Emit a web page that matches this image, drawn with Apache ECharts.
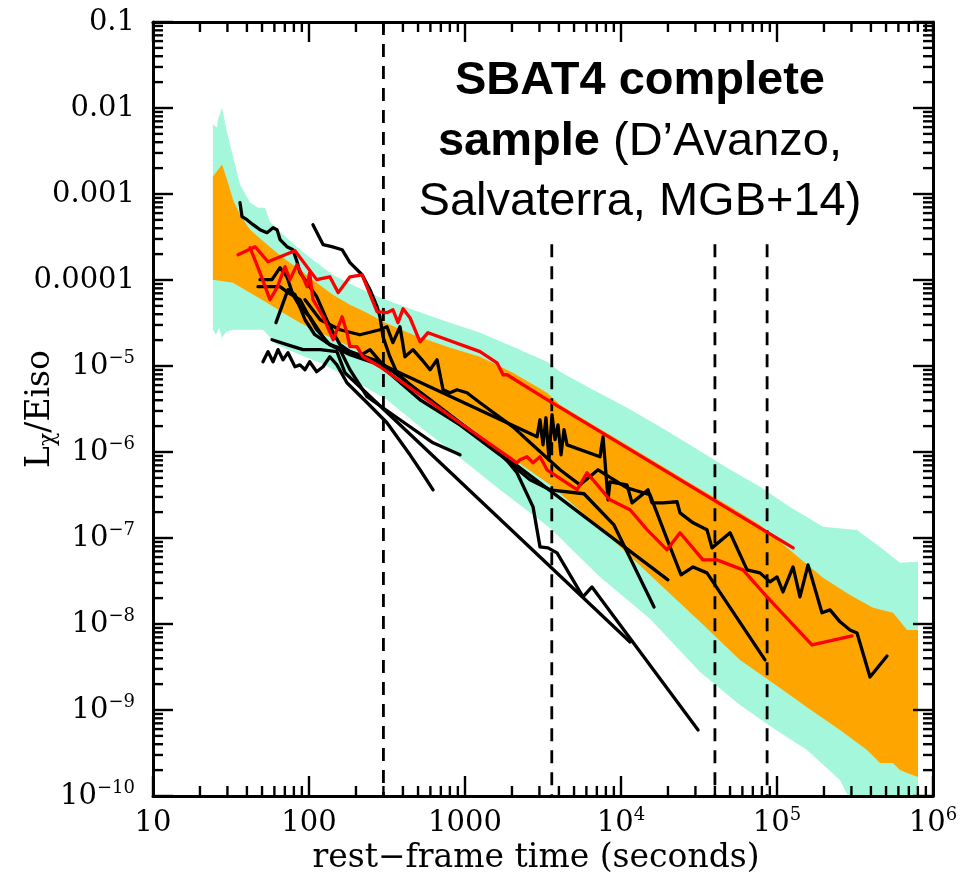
<!DOCTYPE html>
<html>
<head>
<meta charset="utf-8">
<script src="https://cdn.jsdelivr.net/npm/echarts@6/dist/echarts.min.js"></script>
<style>
  html, body { margin: 0; padding: 0; background: #fff; }
  #chart { width: 969px; height: 886px; }
</style>
</head>
<body>
<div id="chart"></div>
<script>
// Axis ranges (rest-frame seconds, Lx/Eiso)
const xRange = [10, 1e6];
const yRange = [1e-10, 0.1];

// Envelope of the sample: outer (cyan) and inner (orange) bands, [t, Lx/Eiso]
const outerUpper = [
  [24.2, 6.42e-3], [25.7, 5.92e-3], [26.1, 7.34e-3], [27.7, 1.01e-2], [29.8, 5.18e-3],
  [32.6, 2.72e-3], [36.1, 1.29e-3], [41.9, 7.94e-4], [47.1, 6.94e-4], [52.2, 6.94e-4],
  [56.2, 4.77e-4], [68.1, 3.37e-4], [87.5, 2.25e-4], [112, 1.59e-4], [142, 1.15e-4],
  [183, 9.06e-5], [235, 7.31e-5], [298, 6.06e-5], [464, 4.51e-5], [767, 3.27e-5],
  [1248, 2.44e-5], [2031, 1.67e-5], [3355, 1.12e-5], [4064, 8.57e-6], [6616, 5.29e-6],
  [10930, 3.27e-6], [17780, 1.96e-6], [28940, 1.15e-6], [47810, 6.55e-7], [77800, 3.94e-7],
  [121200, 2.30e-7], [197200, 1.35e-7], [325700, 1.24e-7], [457500, 7.88e-8],
  [614400, 5.14e-8], [801400, 5.28e-8]
];
const outerLower = [
  [24.2, 2.64e-5], [25.3, 2.31e-5], [26.5, 2.79e-5], [27.7, 2.13e-5], [29.4, 2.50e-5],
  [32.6, 2.64e-5], [50.7, 2.64e-5], [62.4, 1.77e-5], [87.5, 1.35e-5], [118, 1.09e-5],
  [191, 6.92e-6], [316, 4.05e-6], [515, 1.96e-6], [929, 8.56e-7], [1676, 3.63e-7],
  [3507, 1.31e-7], [7335, 3.53e-8], [15350, 1.15e-8], [32100, 2.77e-9], [57930, 1.14e-9],
  [94280, 6.18e-10], [155700, 3.43e-10], [253400, 1.53e-10], [285200, 1.0e-10],
  [801400, 1.0e-10]
];
const innerUpper = [
  [24.2, 1.59e-3], [26.1, 1.92e-3], [27.7, 2.20e-3], [29.8, 1.47e-3], [32.6, 8.60e-4],
  [36.1, 5.75e-4], [41.9, 3.85e-4], [53.8, 2.58e-4], [68.1, 1.82e-4], [87.5, 1.32e-4],
  [112, 9.31e-5], [142, 6.75e-5], [183, 5.16e-5], [235, 4.17e-5], [298, 3.27e-5],
  [464, 2.31e-5], [767, 1.67e-5], [1248, 1.28e-5], [2031, 8.34e-6], [3355, 4.89e-6],
  [4064, 3.54e-6], [6616, 2.07e-6], [10930, 1.21e-6], [17780, 7.10e-7], [28940, 4.15e-7],
  [47810, 2.43e-7], [77800, 1.42e-7], [126700, 6.72e-8], [197200, 3.44e-8],
  [293800, 2.18e-8], [412600, 1.54e-8], [554100, 1.35e-8], [681300, 8.53e-9],
  [801400, 8.53e-9]
];
const innerLower = [
  [24.2, 1.01e-4], [32.6, 9.31e-5], [41.9, 7.12e-5], [53.8, 5.45e-5], [68.1, 4.17e-5],
  [87.5, 3.19e-5], [118, 2.44e-5], [191, 1.63e-5], [316, 9.54e-6], [515, 5.02e-6],
  [929, 2.37e-6], [1676, 1.06e-6], [3507, 4.15e-7], [7335, 1.31e-7], [15350, 3.72e-8],
  [32100, 1.06e-8], [57930, 3.82e-9], [94280, 2.06e-9], [155700, 1.08e-9],
  [253400, 5.85e-10], [377600, 3.43e-10], [457500, 2.42e-10], [554100, 2.42e-10],
  [614400, 2.00e-10], [681300, 1.85e-10], [801400, 1.66e-10]
];

// Individual afterglow light curves (black)
const curveA = [
  [36.1, 7.94e-4], [37.2, 5.46e-4], [40.0, 5.03e-4], [43.8, 4.40e-4], [48.5, 3.85e-4],
  [53.8, 3.55e-4], [58.8, 4.06e-4], [62.4, 3.85e-4], [65.2, 2.95e-4], [72.2, 2.44e-4],
  [78.9, 2.25e-4], [83.8, 1.63e-4], [87.5, 1.22e-4], [97.1, 9.3e-5], [112, 6.40e-5],
  [130, 3.45e-5], [143, 2.44e-5], [158, 1.77e-5], [183, 1.47e-5], [212, 1.32e-5],
  [246, 1.55e-5], [298, 1.03e-5], [2897, 1.50e-6], [3025, 2.37e-6], [3162, 1.21e-6],
  [3304, 2.50e-6], [3453, 8.11e-7], [3612, 2.71e-6], [3776, 1.39e-6], [3945, 2.07e-6],
  [4124, 9.27e-7], [4313, 1.82e-6], [4508, 1.21e-6], [7334, 8.79e-7], [7670, 1.50e-6],
  [8260, 2.78e-7], [8500, 4.50e-7], [10920, 4.15e-7], [11770, 2.56e-7], [14900, 3.63e-7],
  [15810, 2.56e-7], [18590, 2.56e-7], [22860, 2.64e-7], [23900, 1.96e-7], [28970, 1.50e-7],
  [35560, 1.25e-7], [38300, 7.68e-8], [50000, 1.15e-7], [64270, 4.26e-8], [77800, 3.93e-8],
  [90200, 3.09e-8], [100000, 3.53e-8], [109200, 2.36e-8], [126700, 4.61e-8],
  [140300, 2.07e-8], [158100, 4.87e-8], [194200, 1.35e-8], [218700, 1.46e-8],
  [253500, 1.06e-8], [293800, 8.53e-9], [325800, 7.87e-9], [394600, 2.42e-9],
  [507100, 4.25e-9]
];
const curveB = [
  [106, 4.40e-4], [123, 2.58e-4], [140, 2.44e-4], [163, 2.25e-4], [183, 1.59e-4],
  [219, 1.15e-4], [246, 7.72e-5], [273, 4.90e-5], [285, 3.74e-5], [298, 2.19e-5],
  [330, 1.28e-5], [366, 8.36e-6], [444, 6.05e-6], [597, 4.05e-6], [802, 2.50e-6],
  [1077, 1.72e-6], [1676, 1.00e-6], [2153, 5.73e-7], [2730, 2.30e-7], [3025, 7.89e-8],
  [3404, 7.68e-8], [3890, 6.71e-8], [5704, 2.07e-8], [6516, 2.70e-8], [31200, 5.85e-10]
];
const curveC = [
  [94.3, 5.91e-5], [118, 3.45e-5], [158, 2.64e-5], [212, 2.31e-5], [285, 2.64e-5],
  [316, 2.86e-5], [345, 1.87e-5], [383, 2.86e-5], [412, 1.28e-5], [464, 1.55e-5],
  [530, 1.18e-5], [597, 9.06e-6], [662, 1.18e-5], [723, 5.30e-6], [802, 4.89e-6],
  [889, 5.30e-6], [1030, 4.89e-6], [1248, 3.74e-6], [2030, 1.96e-6], [2497, 1.39e-6],
  [4064, 6.21e-7], [5460, 4.15e-7], [7130, 6.21e-7], [10920, 3.83e-7], [15350, 3.18e-7],
  [20620, 7.89e-8], [24270, 3.73e-8], [28970, 4.61e-8], [35560, 3.93e-8], [83750, 3.82e-9]
];
const curveD = [
  [48.5, 1.01e-4], [57.9, 1.01e-4], [65.2, 1.39e-4], [72.2, 1.09e-4], [78.9, 6.75e-5],
  [87.5, 4.90e-5], [101, 3.74e-5], [118, 2.44e-5], [130, 1.87e-5], [158, 1.55e-5],
  [183, 9.06e-6], [236, 4.39e-6], [383, 2.37e-6], [624, 1.28e-6], [929, 9.27e-7]
];
const curveE = [
  [47.1, 8.36e-5], [56.2, 8.36e-5], [65.2, 8.36e-5], [73.3, 7.13e-5], [87.5, 5.91e-5],
  [97.1, 4.17e-5], [112, 2.64e-5], [136, 1.77e-5], [183, 1.35e-5], [285, 1.03e-5],
  [515, 4.05e-6], [929, 2.07e-6], [1676, 9.27e-7], [2610, 4.75e-7], [3508, 3.63e-7],
  [5790, 3.27e-7], [9010, 1.42e-7], [16290, 1.58e-8]
];
const curveF = [
  [61.4, 3.19e-5], [73.3, 7.72e-5], [81.3, 6.75e-5], [94.3, 3.45e-5], [109, 2.31e-5],
  [136, 1.77e-5], [183, 1.47e-5], [285, 1.12e-5], [20000, 3.26e-8]
];
const curveG = [
  [50.7, 1.12e-5], [54.6, 1.47e-5], [58.8, 1.12e-5], [63.3, 1.55e-5], [68.1, 1.18e-5],
  [73.3, 1.43e-5], [81.3, 9.8e-6], [87.5, 1.03e-5], [94.3, 9.06e-6], [101, 1.12e-5],
  [112, 8.58e-6], [123, 9.8e-6], [136, 1.28e-5], [151, 1.03e-5], [175, 6.38e-6],
  [236, 3.74e-6], [316, 2.19e-6], [444, 9.27e-7], [515, 6.21e-7], [624, 3.63e-7]
];
const curveH = [
  [57.9, 2.02e-5], [72.2, 1.77e-5], [91.6, 1.55e-5], [118, 1.55e-5], [151, 1.47e-5],
  [170, 8.36e-6], [11430, 6.18e-9]
];

// Highlighted light curves (red)
const redUpper = [
  [35.1, 1.97e-4], [45.1, 2.44e-4], [54.6, 1.63e-4], [81.3, 2.19e-4], [112, 1.01e-4],
  [136, 1.09e-4], [154, 7.13e-5], [183, 1.09e-4], [219, 1.15e-4], [273, 4.28e-5],
  [316, 4.17e-5], [345, 4.52e-5], [372, 3.19e-5], [401, 4.64e-5], [444, 3.64e-5],
  [515, 1.91e-5], [579, 2.44e-5], [1248, 1.47e-5], [1603, 1.09e-5], [1754, 7.91e-6],
  [1860, 7.91e-6], [3357, 4.06e-6], [127000, 7.67e-8]
];
const redLower = [
  [41.9, 2.38e-4], [48.5, 1.22e-4], [56.2, 5.91e-5], [62.4, 8.15e-5], [70.2, 1.43e-4],
  [75.5, 1.01e-4], [83.8, 1.51e-4], [90.2, 1.15e-4], [97.1, 8.36e-5], [101, 1.22e-4],
  [106, 5.91e-5], [123, 3.74e-5], [143, 2.02e-5], [163, 3.74e-5], [175, 2.44e-5],
  [183, 1.68e-5], [203, 1.68e-5], [222, 1.28e-5], [285, 9.8e-6], [2153, 7.48e-7],
  [2252, 8.12e-7], [2497, 8.8e-7], [2730, 7.48e-7], [3025, 8.8e-7], [3357, 6.21e-7],
  [5224, 3.64e-7], [6053, 5.73e-7], [6620, 4.75e-7], [8499, 2.78e-7], [11430, 2.13e-7],
  [14690, 1.25e-7], [19720, 7.29e-8], [23900, 1.15e-7], [33550, 5.57e-8], [41230, 5.57e-8],
  [60530, 4.26e-8], [86300, 2.07e-8], [167500, 5.71e-9], [303000, 7.28e-9]
];

// Reference epochs (dashed verticals): time and top of each line
const epochTimes = [300, 3600, 40000, 86400];
const epochTops = [0.1, 2.6e-4, 2.6e-4, 2.6e-4];

const blackCurves = [curveA, curveB, curveC, curveD, curveE, curveF, curveG, curveH];
const redCurves = [redUpper, redLower];

const serif = 'DejaVu Serif';
const sans = 'Liberation Sans';

// Decade and sub-decade tick positions of a log axis range
function logTicks(range) {
  const out = [];
  const e0 = Math.round(Math.log10(range[0]));
  const e1 = Math.round(Math.log10(range[1]));
  for (let e = e0; e <= e1; e++) {
    out.push({ v: Math.pow(10, e), major: true });
    if (e < e1) {
      for (let k = 2; k <= 9; k++) out.push({ v: k * Math.pow(10, e), major: false });
    }
  }
  return out;
}

// Inward ticks on all four sides of the frame
function renderTicks(params, api) {
  const style = { stroke: '#000', lineWidth: 2.4 };
  const children = [];
  logTicks(xRange).forEach(t => {
    const len = t.major ? 20 : 10;
    const b = api.coord([t.v, yRange[0]]);
    const tp = api.coord([t.v, yRange[1]]);
    children.push({ type: 'line', shape: { x1: b[0], y1: b[1], x2: b[0], y2: b[1] - len }, style });
    children.push({ type: 'line', shape: { x1: tp[0], y1: tp[1], x2: tp[0], y2: tp[1] + len }, style });
  });
  logTicks(yRange).forEach(t => {
    const len = t.major ? 20 : 10;
    const l = api.coord([xRange[0], t.v]);
    const r = api.coord([xRange[1], t.v]);
    children.push({ type: 'line', shape: { x1: l[0], y1: l[1], x2: l[0] + len, y2: l[1] }, style });
    children.push({ type: 'line', shape: { x1: r[0], y1: r[1], x2: r[0] - len, y2: r[1] }, style });
  });
  return { type: 'group', children };
}

function bandSeries(upper, lower, color, z) {
  const pts = upper.concat(lower.slice().reverse());
  return {
    type: 'custom', data: pts, z, silent: true,
    renderItem(params, api) {
      if (params.dataIndex !== 0) return null;
      return {
        type: 'polygon',
        shape: { points: pts.map(p => api.coord(p)) },
        style: { fill: color, stroke: null }
      };
    }
  };
}

function curveSeries(data, color, z) {
  return {
    type: 'line', data, z, silent: true, symbol: 'none', showSymbol: false,
    lineStyle: { color, width: 3.3, join: 'round', cap: 'round' }
  };
}

function epochSeries(i) {
  return {
    type: 'line', z: 3, silent: true, symbol: 'none',
    data: [[epochTimes[i], epochTops[i]], [epochTimes[i], yRange[0]]],
    lineStyle: { color: '#000', width: 2.8, type: [13, 9] }
  };
}

const numRich = {
  b: { fontFamily: serif, fontSize: 29, lineHeight: 34, color: '#000' },
  s: { fontFamily: serif, fontSize: 18, lineHeight: 20, verticalAlign: 'top', color: '#000' }
};

function xLabel(v) {
  const e = Math.round(Math.log10(v));
  if (e <= 3) return '{b|' + Math.pow(10, e) + '}';
  return '{b|10}{s|' + e + '}';
}
function yLabel(v) {
  const e = Math.round(Math.log10(v));
  if (e >= -4) return '{b|' + Math.pow(10, e).toFixed(-e) + '}';
  return '{b|10}{s|\u2212' + (-e) + '}';
}

const frameAxis = {
  type: 'log', logBase: 10, z: 30,
  axisLine: { show: true, onZero: false, lineStyle: { color: '#000', width: 3 } },
  axisTick: { show: false },
  splitLine: { show: false },
  minorTick: { show: false },
  minorSplitLine: { show: false }
};

const series = [
  bandSeries(outerUpper, outerLower, '#a4f7db', 1),
  bandSeries(innerUpper, innerLower, '#ffa500', 1.5),
  ...epochTimes.map((_, i) => epochSeries(i)),
  ...blackCurves.map(c => curveSeries(c, '#000', 4)),
  ...redCurves.map(c => curveSeries(c, '#ff0000', 5)),
  {
    type: 'custom', renderItem: renderTicks, data: [[xRange[0], yRange[0]]],
    z: 40, silent: true
  }
];

const titleBold = { fontFamily: sans, fontWeight: 'bold', fontSize: 47, fill: '#000' };
const titleNormal = { fontFamily: sans, fontSize: 47, fill: '#000' };

const chart = echarts.init(document.getElementById('chart'), null, { renderer: 'canvas' });
chart.setOption({
  animation: false,
  backgroundColor: '#fff',
  grid: { left: 153, right: 36, top: 22, bottom: 90, containLabel: false, outerBoundsMode: 'none' },
  xAxis: [
    Object.assign({}, frameAxis, {
      position: 'bottom', min: xRange[0], max: xRange[1], splitNumber: 5,
      axisLabel: { show: true, margin: 10, formatter: xLabel, rich: numRich }
    }),
    Object.assign({}, frameAxis, {
      position: 'top', min: xRange[0], max: xRange[1], splitNumber: 5,
      axisLabel: { show: false }
    })
  ],
  yAxis: [
    Object.assign({}, frameAxis, {
      position: 'left', min: yRange[0], max: yRange[1], splitNumber: 9,
      axisLabel: { show: true, margin: 18, formatter: yLabel, rich: numRich }
    }),
    Object.assign({}, frameAxis, {
      position: 'right', min: yRange[0], max: yRange[1], splitNumber: 9,
      axisLabel: { show: false }
    })
  ],
  graphic: [
    {
      type: 'text', x: 536, y: 858, z: 50,
      style: {
        text: 'rest\u2212frame time (seconds)', align: 'center', verticalAlign: 'middle',
        fontFamily: serif, fontSize: 33, fill: '#000'
      }
    },
    {
      type: 'text', x: 40, y: 409, rotation: Math.PI / 2, z: 50,
      style: {
        text: '{n|L}{sub|\u03c7}{n|/Eiso}', align: 'center', verticalAlign: 'middle',
        rich: {
          n: { fontFamily: serif, fontSize: 33, lineHeight: 38, fill: '#000' },
          sub: { fontFamily: serif, fontSize: 22, lineHeight: 25, verticalAlign: 'bottom', fill: '#000' }
        }
      }
    },
    {
      type: 'text', x: 640, y: 81, z: 50,
      style: {
        text: '{b|SBAT4 complete}', align: 'center', verticalAlign: 'middle',
        rich: { b: titleBold }
      }
    },
    {
      type: 'text', x: 640, y: 142, z: 50,
      style: {
        text: '{b|sample}{n| (D\u2019Avanzo,}', align: 'center', verticalAlign: 'middle',
        rich: { b: titleBold, n: titleNormal }
      }
    },
    {
      type: 'text', x: 640, y: 202, z: 50,
      style: {
        text: '{n|Salvaterra, MGB+14)}', align: 'center', verticalAlign: 'middle',
        rich: { n: titleNormal }
      }
    }
  ],
  series
});
</script>
</body>
</html>
